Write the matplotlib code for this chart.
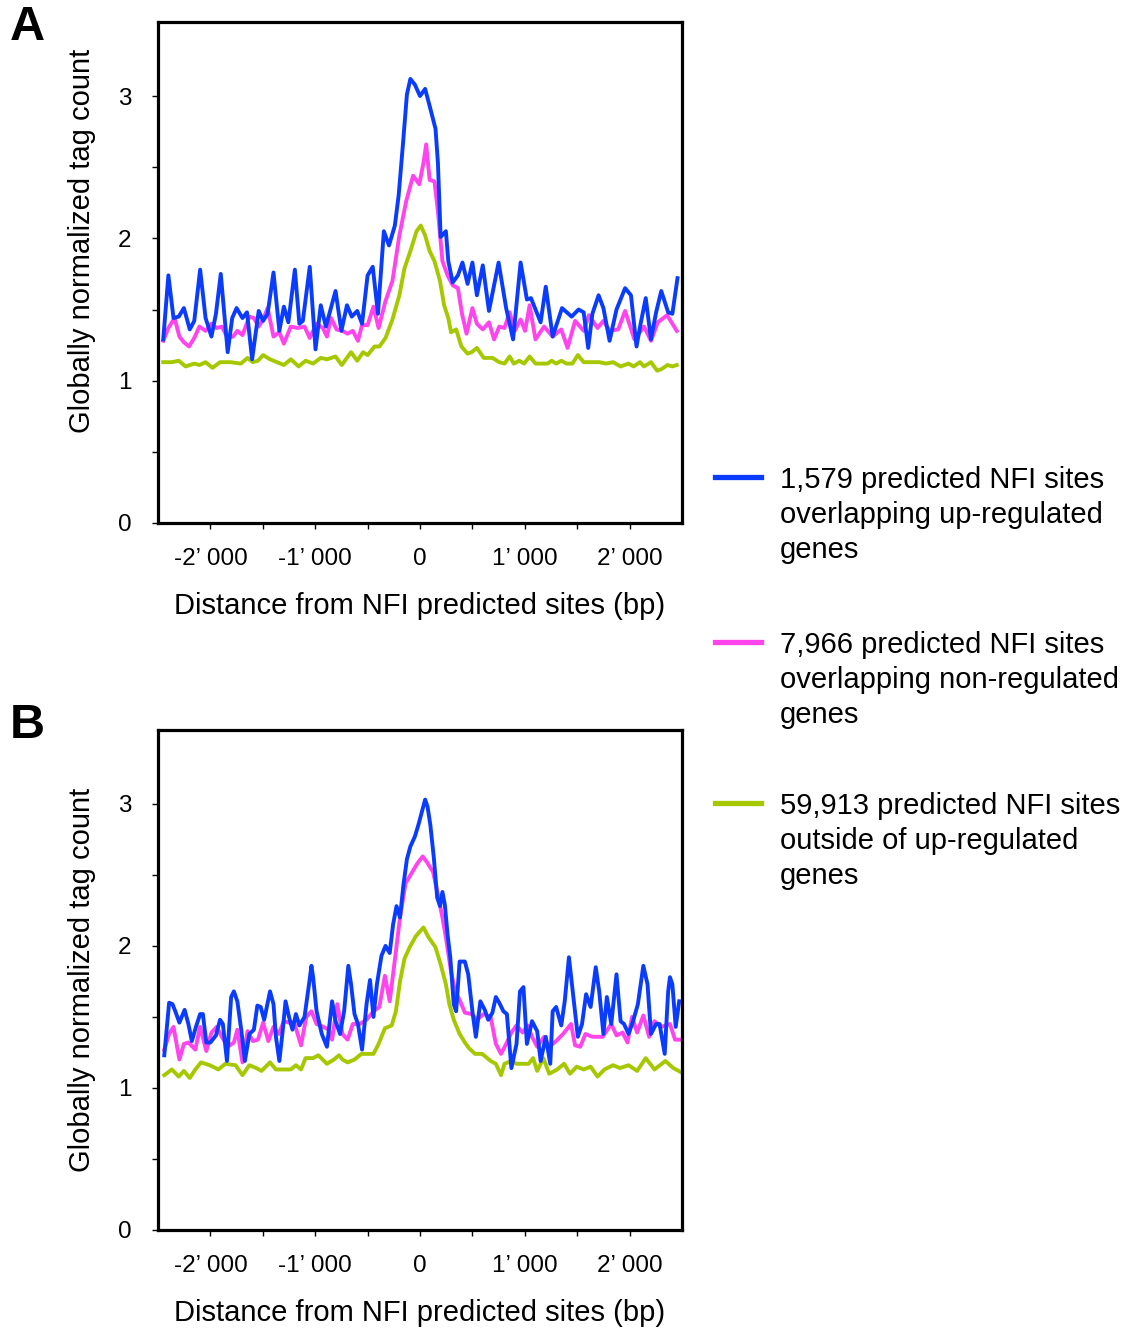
import matplotlib
matplotlib.use("Agg")
import matplotlib.pyplot as plt
from matplotlib.lines import Line2D

plt.rcParams['font.family'] = ['Liberation Sans', 'DejaVu Sans']

# ---- panel A data (distance in bp, globally normalized tag count) ----
a_blue_x = [-2450, -2401, -2352, -2302, -2253, -2197, -2154, -2098, -2046, -1990,
            -1947, -1901, -1835, -1792, -1750, -1694, -1651, -1602, -1539, -1497,
            -1454, -1398, -1342, -1299, -1256, -1194, -1151, -1118, -1052, -997,
            -947, -898, -806, -750, -697, -651, -599, -553, -500, -451,
            -401, -345, -296, -240, -204, -164, -125, -92, -49, 0,
            49, 92, 148, 171, 197, 247, 270, 312, 362, 405,
            454, 500, 543, 599, 658, 750, 822, 888, 960, 1020,
            1059, 1151, 1200, 1266, 1355, 1447, 1513, 1562, 1605, 1645,
            1704, 1750, 1809, 1875, 1957, 2013, 2066, 2105, 2154, 2204,
            2253, 2302, 2368, 2408, 2457]
a_blue_y = [1.29, 1.74, 1.44, 1.45, 1.51, 1.36, 1.42, 1.78, 1.44, 1.31,
            1.47, 1.75, 1.20, 1.44, 1.51, 1.44, 1.48, 1.15, 1.49, 1.42,
            1.47, 1.76, 1.35, 1.52, 1.41, 1.78, 1.40, 1.42, 1.80, 1.22,
            1.53, 1.38, 1.63, 1.35, 1.53, 1.45, 1.49, 1.40, 1.74, 1.80,
            1.47, 2.05, 1.95, 2.09, 2.30, 2.65, 3.01, 3.12, 3.08, 3.00,
            3.05, 2.93, 2.77, 2.53, 2.01, 2.05, 1.84, 1.69, 1.74, 1.83,
            1.68, 1.83, 1.60, 1.81, 1.49, 1.83, 1.51, 1.29, 1.83, 1.57,
            1.58, 1.41, 1.66, 1.31, 1.51, 1.45, 1.50, 1.48, 1.23, 1.47,
            1.60, 1.51, 1.28, 1.50, 1.65, 1.60, 1.24, 1.40, 1.58, 1.29,
            1.48, 1.63, 1.48, 1.47, 1.72]

a_pink_x = [-2450, -2401, -2342, -2296, -2253, -2204, -2154, -2105, -2046, -1990,
            -1940, -1891, -1835, -1783, -1743, -1694, -1628, -1585, -1539, -1497,
            -1454, -1398, -1342, -1299, -1233, -1168, -1102, -1052, -987, -927,
            -888, -849, -796, -740, -691, -641, -592, -553, -500, -444,
            -395, -329, -263, -197, -132, -66, -7, 33, 59, 92,
            138, 171, 214, 263, 312, 362, 401, 444, 500, 543,
            599, 658, 707, 756, 806, 855, 904, 960, 1003, 1046,
            1102, 1184, 1266, 1348, 1408, 1480, 1562, 1612, 1694, 1750,
            1809, 1891, 1957, 2046, 2138, 2204, 2269, 2358, 2450]
a_pink_y = [1.28, 1.37, 1.44, 1.31, 1.27, 1.24, 1.30, 1.38, 1.35, 1.40,
            1.37, 1.38, 1.30, 1.31, 1.35, 1.32, 1.45, 1.44, 1.38, 1.43,
            1.51, 1.31, 1.34, 1.26, 1.38, 1.37, 1.38, 1.30, 1.40, 1.37,
            1.31, 1.44, 1.36, 1.35, 1.33, 1.35, 1.28, 1.39, 1.39, 1.52,
            1.37, 1.56, 1.70, 2.02, 2.26, 2.44, 2.38, 2.53, 2.66, 2.41,
            2.40, 2.19, 1.84, 1.74, 1.67, 1.65, 1.47, 1.33, 1.51, 1.40,
            1.36, 1.41, 1.29, 1.38, 1.37, 1.48, 1.35, 1.43, 1.35, 1.53,
            1.29, 1.38, 1.31, 1.36, 1.23, 1.42, 1.35, 1.46, 1.37, 1.42,
            1.35, 1.36, 1.49, 1.29, 1.38, 1.28, 1.41, 1.46, 1.35]

a_green_x = [-2450, -2368, -2302, -2237, -2154, -2105, -2046, -1980, -1908, -1809,
             -1710, -1645, -1595, -1546, -1497, -1431, -1365, -1299, -1233, -1158,
             -1092, -1020, -947, -888, -806, -747, -658, -599, -543, -500,
             -434, -388, -329, -263, -197, -148, -92, -33, 7, 49,
             92, 138, 191, 230, 270, 296, 345, 395, 454, 493,
             543, 608, 691, 756, 806, 855, 895, 947, 993, 1046,
             1102, 1217, 1256, 1299, 1348, 1398, 1454, 1506, 1562, 1645,
             1710, 1776, 1842, 1914, 1990, 2039, 2098, 2138, 2204, 2263,
             2302, 2362, 2408, 2450]
a_green_y = [1.13, 1.13, 1.14, 1.10, 1.12, 1.11, 1.13, 1.09, 1.13, 1.13,
             1.12, 1.16, 1.13, 1.14, 1.18, 1.15, 1.13, 1.11, 1.15, 1.10,
             1.14, 1.12, 1.16, 1.15, 1.17, 1.11, 1.20, 1.14, 1.20, 1.18,
             1.24, 1.24, 1.30, 1.43, 1.60, 1.79, 1.91, 2.05, 2.09, 2.02,
             1.91, 1.84, 1.70, 1.53, 1.44, 1.34, 1.36, 1.24, 1.19, 1.20,
             1.23, 1.16, 1.16, 1.13, 1.12, 1.17, 1.12, 1.14, 1.12, 1.17,
             1.12, 1.12, 1.14, 1.12, 1.14, 1.12, 1.12, 1.18, 1.13, 1.13,
             1.13, 1.12, 1.13, 1.10, 1.12, 1.10, 1.13, 1.10, 1.13, 1.07,
             1.08, 1.11, 1.10, 1.11]

# ---- panel B data ----
b_blue_x = [-2440, -2394, -2362, -2335, -2296, -2246, -2210, -2177, -2138, -2098,
            -2072, -2039, -2000, -1947, -1908, -1881, -1842, -1802, -1776, -1743,
            -1704, -1671, -1628, -1585, -1552, -1520, -1487, -1431, -1398, -1375,
            -1342, -1309, -1283, -1250, -1217, -1184, -1151, -1102, -1059, -1036,
            -1020, -987, -937, -888, -839, -806, -763, -724, -684, -658,
            -625, -592, -553, -510, -477, -444, -411, -368, -329, -289,
            -257, -224, -191, -158, -125, -92, -49, -16, 16, 49,
            72, 99, 132, 164, 191, 214, 237, 263, 289, 322,
            345, 378, 428, 460, 500, 533, 576, 618, 651, 691,
            724, 756, 796, 829, 872, 921, 954, 987, 1020, 1069,
            1118, 1151, 1200, 1243, 1266, 1299, 1348, 1381, 1421, 1464,
            1506, 1546, 1585, 1628, 1677, 1710, 1750, 1783, 1825, 1875,
            1914, 1947, 1990, 2033, 2079, 2131, 2171, 2204, 2253, 2286,
            2335, 2368, 2385, 2408, 2440, 2473]
b_blue_y = [1.23, 1.60, 1.59, 1.54, 1.46, 1.55, 1.45, 1.33, 1.43, 1.52,
            1.52, 1.32, 1.32, 1.37, 1.48, 1.45, 1.19, 1.64, 1.68, 1.61,
            1.40, 1.19, 1.38, 1.41, 1.58, 1.57, 1.48, 1.68, 1.59, 1.36,
            1.19, 1.41, 1.61, 1.50, 1.41, 1.52, 1.44, 1.50, 1.73, 1.86,
            1.78, 1.54, 1.38, 1.29, 1.61, 1.47, 1.38, 1.54, 1.86, 1.73,
            1.52, 1.45, 1.27, 1.59, 1.76, 1.50, 1.73, 1.93, 2.00, 1.95,
            2.15, 2.28, 2.20, 2.43, 2.61, 2.70, 2.77, 2.85, 2.94, 3.03,
            2.98, 2.85, 2.62, 2.34, 2.28, 2.38, 2.29, 2.08, 1.92, 1.59,
            1.54, 1.89, 1.89, 1.80, 1.54, 1.36, 1.61, 1.55, 1.48, 1.53,
            1.64, 1.60, 1.54, 1.52, 1.14, 1.31, 1.68, 1.71, 1.31, 1.47,
            1.40, 1.19, 1.36, 1.17, 1.54, 1.57, 1.44, 1.61, 1.92, 1.64,
            1.36, 1.45, 1.66, 1.57, 1.85, 1.68, 1.38, 1.64, 1.45, 1.80,
            1.47, 1.45, 1.38, 1.47, 1.59, 1.86, 1.73, 1.38, 1.45, 1.45,
            1.24, 1.68, 1.78, 1.73, 1.43, 1.61]

b_pink_x = [-2440, -2394, -2352, -2296, -2253, -2210, -2144, -2098, -2039, -1990,
            -1940, -1891, -1835, -1776, -1743, -1694, -1645, -1595, -1546, -1497,
            -1447, -1398, -1348, -1299, -1250, -1200, -1135, -1085, -1036, -987,
            -921, -872, -839, -789, -740, -691, -641, -576, -510, -444,
            -388, -335, -289, -230, -191, -138, -82, -26, 26, 66,
            125, 171, 214, 247, 296, 335, 378, 428, 493, 543,
            608, 674, 724, 773, 822, 872, 921, 980, 1026, 1069,
            1118, 1184, 1233, 1299, 1365, 1441, 1480, 1529, 1579, 1645,
            1743, 1825, 1875, 1934, 1980, 2023, 2072, 2131, 2187, 2237,
            2302, 2385, 2434, 2493]
b_pink_y = [1.27, 1.38, 1.43, 1.20, 1.31, 1.32, 1.27, 1.43, 1.26, 1.39,
            1.43, 1.36, 1.29, 1.32, 1.41, 1.18, 1.40, 1.33, 1.34, 1.46,
            1.33, 1.43, 1.38, 1.47, 1.46, 1.46, 1.30, 1.50, 1.54, 1.45,
            1.43, 1.41, 1.34, 1.59, 1.38, 1.34, 1.45, 1.45, 1.48, 1.54,
            1.57, 1.79, 1.61, 1.96, 2.20, 2.44, 2.51, 2.58, 2.63, 2.59,
            2.52, 2.36, 2.20, 2.06, 1.82, 1.68, 1.62, 1.53, 1.52, 1.48,
            1.52, 1.50, 1.31, 1.24, 1.31, 1.39, 1.44, 1.39, 1.44, 1.36,
            1.29, 1.36, 1.29, 1.33, 1.38, 1.45, 1.30, 1.29, 1.38, 1.36,
            1.36, 1.45, 1.37, 1.39, 1.32, 1.50, 1.39, 1.51, 1.36, 1.47,
            1.43, 1.45, 1.34, 1.34]

b_green_x = [-2440, -2368, -2302, -2253, -2197, -2144, -2089, -2006, -1924, -1858,
             -1760, -1694, -1628, -1562, -1513, -1431, -1375, -1299, -1233, -1184,
             -1135, -1092, -1020, -970, -888, -822, -773, -740, -691, -625,
             -559, -444, -395, -335, -270, -230, -191, -148, -99, -39,
             33, 82, 148, 197, 247, 280, 322, 378, 428, 467,
             526, 592, 674, 724, 773, 806, 872, 921, 987, 1036,
             1079, 1118, 1177, 1233, 1309, 1375, 1431, 1496, 1562, 1628,
             1694, 1760, 1842, 1908, 1990, 2072, 2154, 2237, 2342, 2417,
             2493]
b_green_y = [1.09, 1.13, 1.08, 1.12, 1.07, 1.13, 1.18, 1.16, 1.13, 1.17,
             1.16, 1.09, 1.16, 1.14, 1.12, 1.18, 1.13, 1.13, 1.13, 1.16,
             1.13, 1.21, 1.21, 1.23, 1.17, 1.20, 1.23, 1.20, 1.18, 1.20,
             1.24, 1.24, 1.31, 1.42, 1.44, 1.54, 1.75, 1.91, 1.99, 2.07,
             2.13, 2.06, 1.99, 1.87, 1.73, 1.59, 1.48, 1.38, 1.32, 1.28,
             1.24, 1.24, 1.19, 1.17, 1.09, 1.17, 1.19, 1.17, 1.17, 1.17,
             1.21, 1.12, 1.21, 1.10, 1.13, 1.17, 1.10, 1.15, 1.13, 1.15,
             1.08, 1.13, 1.16, 1.14, 1.16, 1.12, 1.21, 1.13, 1.19, 1.14,
             1.11]

colors = ['#0a3cff', '#ff44ee', '#a6c800']
legend_labels = [
    ['1,579 predicted NFI sites', 'overlapping up-regulated', 'genes'],
    ['7,966 predicted NFI sites', 'overlapping non-regulated', 'genes'],
    ['59,913 predicted NFI sites', 'outside of up-regulated', 'genes'],
]
xtick_vals = [-2000, -1000, 0, 1000, 2000]
xtick_labels = ['-2\u2019 000', '-1\u2019 000', '0', '1\u2019 000', '2\u2019 000']
ytick_vals = [0, 1, 2, 3]

W, H = 1133, 1329
fig = plt.figure(figsize=(W / 100, H / 100), dpi=100)


def style_axes(ax, label_y):
    ax.set_xlim(-2500, 2500)
    ax.set_ylim(0, 3.52)
    ax.set_xticks(range(-2000, 2001, 500), minor=True)
    ax.set_xticks(xtick_vals)
    ax.set_xticklabels(xtick_labels)
    ax.set_yticks([0.5, 1.5, 2.5], minor=True)
    ax.set_yticks(ytick_vals)
    ax.tick_params(which='both', direction='out', length=4, width=1,
                   labelsize=17.5, pad=14)
    ax.tick_params(axis='y', pad=15)
    for s in ax.spines.values():
        s.set_linewidth(2.3)
    ax.set_xlabel('Distance from NFI predicted sites (bp)', fontsize=21, labelpad=16)
    ax.set_ylabel('Globally normalized tag count', fontsize=21)
    ax.yaxis.set_label_coords(-0.118, label_y)


axA = fig.add_axes([158 / W, 1 - 523 / H, 524 / W, 501 / H])
axA.plot(a_green_x, a_green_y, color=colors[2], lw=2.8, solid_joinstyle='round')
axA.plot(a_pink_x, a_pink_y, color=colors[1], lw=2.8, solid_joinstyle='round')
axA.plot(a_blue_x, a_blue_y, color=colors[0], lw=2.8, solid_joinstyle='round')
style_axes(axA, 0.563)

axB = fig.add_axes([158 / W, 1 - 1230 / H, 524 / W, 500 / H])
axB.plot(b_green_x, b_green_y, color=colors[2], lw=2.8, solid_joinstyle='round')
axB.plot(b_pink_x, b_pink_y, color=colors[1], lw=2.8, solid_joinstyle='round')
axB.plot(b_blue_x, b_blue_y, color=colors[0], lw=2.8, solid_joinstyle='round')
style_axes(axB, 0.5)

fig.text(27 / W, 1 - 28 / H, 'A', fontsize=35, fontweight='bold', ha='center', va='center')
fig.text(27 / W, 1 - 725 / H, 'B', fontsize=35, fontweight='bold', ha='center', va='center')

# legend drawn by hand, one block per series
for i, (c, lines) in enumerate(zip(colors, legend_labels)):
    y0 = [477, 642, 803][i]
    fig.add_artist(Line2D([715 / W, 761 / W], [1 - y0 / H, 1 - y0 / H],
                          color=c, lw=3.8, transform=fig.transFigure))
    for j, txt in enumerate(lines):
        fig.text(780 / W, 1 - (y0 + 3 + j * 35) / H, txt, fontsize=21,
                 ha='left', va='center')

fig.savefig('out.png', dpi=100)
